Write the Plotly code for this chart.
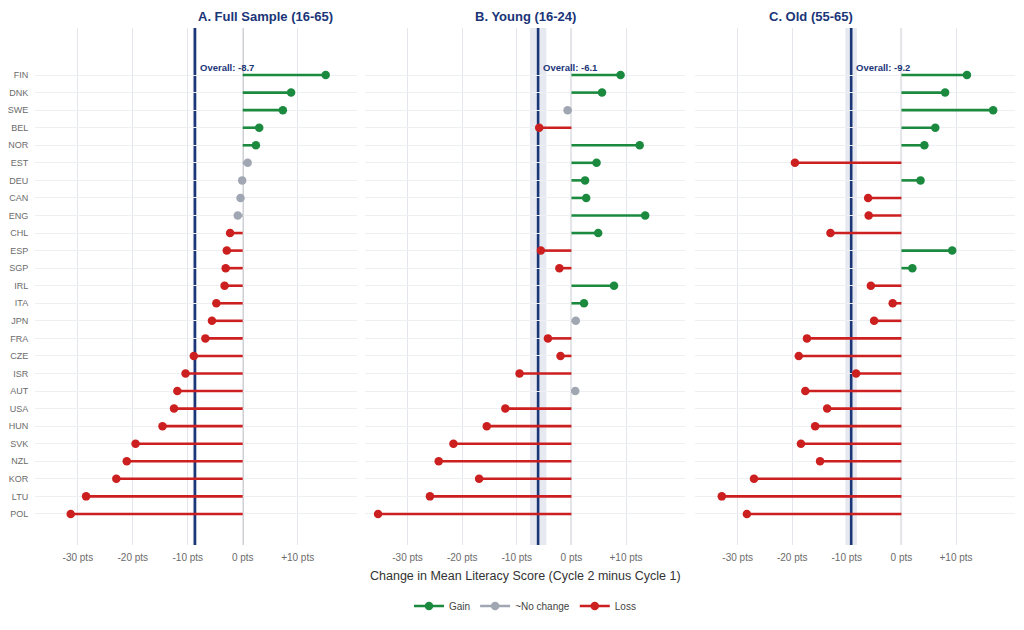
import plotly.graph_objects as go

# Countries, top to bottom (sorted by full-sample change)
countries = ['FIN', 'DNK', 'SWE', 'BEL', 'NOR', 'EST', 'DEU', 'CAN', 'ENG', 'CHL',
             'ESP', 'SGP', 'IRL', 'ITA', 'JPN', 'FRA', 'CZE', 'ISR', 'AUT', 'USA',
             'HUN', 'SVK', 'NZL', 'KOR', 'LTU', 'POL']

# Change in mean literacy score (cycle 2 minus cycle 1)
full_sample = [15.1, 8.8, 7.3, 3.0, 2.4, 0.9, -0.1, -0.4, -0.9, -2.3,
               -2.9, -3.1, -3.3, -4.8, -5.6, -6.8, -8.9, -10.4, -11.9, -12.5,
               -14.6, -19.5, -21.1, -23.0, -28.5, -31.3]
young = [9.0, 5.6, -0.7, -5.9, 12.5, 4.6, 2.5, 2.7, 13.5, 4.9,
         -5.6, -2.2, 7.8, 2.3, 0.8, -4.3, -2.0, -9.5, 0.7, -12.1,
         -15.5, -21.6, -24.3, -16.9, -25.9, -35.4]
old = [12.0, 8.0, 16.8, 6.2, 4.2, -19.5, 3.5, -6.1, -6.0, -13.0,
       9.3, 2.0, -5.6, -1.6, -5.0, -17.3, -18.8, -8.3, -17.6, -13.6,
       -15.8, -18.4, -14.9, -27.0, -32.9, -28.3]

panel_values = [full_sample, young, old]
panel_titles = ['A. Full Sample (16-65)', 'B. Young (16-24)', 'C. Old (55-65)']
overall = [-8.7, -6.1, -9.2]
overall_ci = [0.4, 1.5, 1.05]

x_ticks = [-30, -20, -10, 0, 10]
x_tick_text = ['-30 pts', '-20 pts', '-10 pts', '0 pts', '+10 pts']

statuses = ['Gain', '~No change', 'Loss']
colors = {'Gain': '#1b8a3f', '~No change': '#a0a6b2', 'Loss': '#cc1f1f'}
navy = '#1a3578'
FONT = 'Liberation Sans, Arial, sans-serif'


def status_of(v):
    if v >= 1:
        return 'Gain'
    if v <= -1:
        return 'Loss'
    return '~No change'


rows = list(range(len(countries)))
domains = [[0.0, 0.3286], [0.3367, 0.6633], [0.6735, 1.0]]

fig = go.Figure()

for k, values in enumerate(panel_values):
    xa = 'x' if k == 0 else 'x%d' % (k + 1)
    ya = 'y' if k == 0 else 'y%d' % (k + 1)
    # stems
    for s in statuses:
        xs, ys = [], []
        for i, v in zip(rows, values):
            if status_of(v) == s:
                xs += [0, v, None]
                ys += [i, i, None]
        fig.add_trace(go.Scatter(x=xs, y=ys, mode='lines', xaxis=xa, yaxis=ya,
                                 line=dict(color=colors[s], width=2.6),
                                 showlegend=False, hoverinfo='skip'))
    # dots
    for s in statuses:
        xs = [v for v in values if status_of(v) == s]
        ys = [i for i, v in zip(rows, values) if status_of(v) == s]
        fig.add_trace(go.Scatter(x=xs, y=ys, mode='markers', xaxis=xa, yaxis=ya,
                                 marker=dict(color=colors[s], size=8.5),
                                 showlegend=False))

    # overall band, zero line and overall line
    fig.add_shape(type='rect', xref=xa, yref=ya + ' domain',
                  x0=overall[k] - overall_ci[k], x1=overall[k] + overall_ci[k], y0=0, y1=1,
                  fillcolor='rgba(200,206,222,0.45)', line=dict(width=0), layer='below')
    fig.add_shape(type='line', xref=xa, yref=ya + ' domain', x0=0, x1=0, y0=0, y1=1,
                  line=dict(color='#6e6e74', width=1.2), layer='below')
    fig.add_shape(type='line', xref=xa, yref=ya + ' domain',
                  x0=overall[k], x1=overall[k], y0=0, y1=1,
                  line=dict(color=navy, width=2.6), layer='below')
    fig.add_annotation(x=overall[k], y=-0.45, xref=xa, yref=ya,
                       text='<b>Overall: %.1f</b>' % overall[k], showarrow=False,
                       xanchor='left', xshift=3, font=dict(size=9.5, color=navy, family=FONT))
    fig.add_annotation(x=sum(domains[k]) / 2, y=1.022, xref='paper', yref='paper',
                       text='<b>%s</b>' % panel_titles[k], showarrow=False,
                       yanchor='middle', font=dict(size=13, color=navy, family=FONT))

# legend entries
for s in statuses:
    fig.add_trace(go.Scatter(x=[None], y=[None], mode='lines+markers', name=s,
                             line=dict(color=colors[s], width=2.6),
                             marker=dict(color=colors[s], size=8.5)))

fig.add_annotation(x=0.5, y=-0.06, xref='paper', yref='paper',
                   text='Change in Mean Literacy Score (Cycle 2 minus Cycle 1)',
                   showarrow=False, yanchor='middle',
                   font=dict(size=12.5, color='#333333', family=FONT))

axis_x = dict(range=[-37.8, 20.8], tickvals=x_ticks, ticktext=x_tick_text,
              showgrid=True, gridcolor='#e4e6ee', gridwidth=1, zeroline=False,
              showline=False, ticks='outside', ticklen=3, tickcolor='rgba(0,0,0,0)',
              automargin=False,
              tickfont=dict(size=10, color='#6b6b6b', family=FONT))
axis_y = dict(range=[26.77, -2.68], tickvals=rows, ticktext=countries,
              showgrid=True, gridcolor='#eeeff2', gridwidth=1, zeroline=False,
              showline=False, ticks='outside', ticklen=4, tickcolor='rgba(0,0,0,0)',
              automargin=False,
              tickfont=dict(size=9, color='#6b6b6b', family=FONT))

# the page adds an 8px body margin, so the figure is 8px smaller each way
layout = dict(
    width=1016, height=622,
    margin=dict(l=27, r=9, t=20, b=85, autoexpand=False),
    plot_bgcolor='white', paper_bgcolor='white',
    font=dict(family=FONT),
    showlegend=True,
    legend=dict(orientation='h', x=0.5, xanchor='center', y=-0.118, yanchor='middle',
                font=dict(size=10, color='#444444', family=FONT), itemwidth=30),
)
for k in range(3):
    sx = '' if k == 0 else str(k + 1)
    layout['xaxis' + sx] = dict(axis_x, domain=domains[k], anchor='y' + sx)
    yk = dict(axis_y, anchor='x' + sx, domain=[0, 1])
    if k > 0:
        yk['showticklabels'] = False
        yk['matches'] = 'y'
    layout['yaxis' + sx] = yk

fig.update_layout(**layout)

fig.write_html('out.html')
